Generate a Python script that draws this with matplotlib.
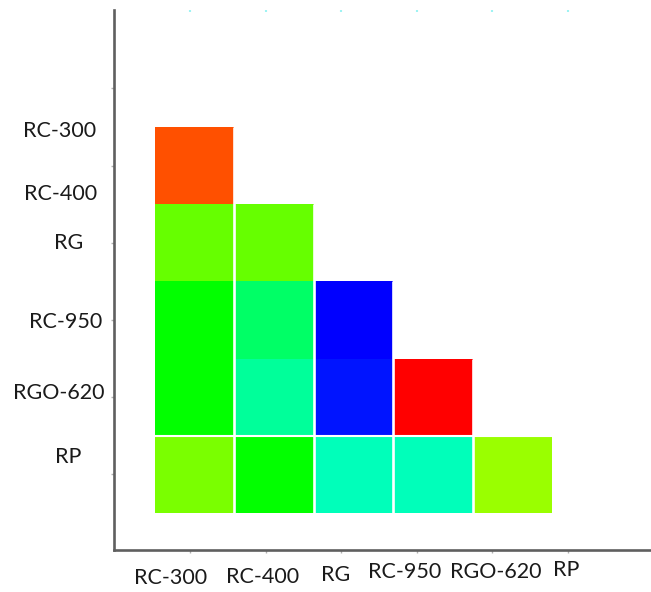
import numpy as np
import matplotlib
matplotlib.use("Agg")
import matplotlib.pyplot as plt
import colorsys
from matplotlib.colors import ListedColormap

# Sample names shared by both axes
row_labels = ["RC-300", "RC-400", "RG", "RC-950", "RGO-620", "RP"]
col_labels = ["RC-300", "RC-400", "RG", "RC-950", "RGO-620", "RP"]

# Lower-triangle similarity scores (row i vs column j, j < i)
row_rc400 = [0.92]
row_rg = [0.60, 0.60]
row_rc950 = [0.50, 0.40, 0.00]
row_rgo620 = [0.50, 0.35, 0.02, 1.00]
row_rp = [0.62, 0.50, 0.32, 0.32, 0.65]
rows = [[], row_rc400, row_rg, row_rc950, row_rgo620, row_rp]

n = len(row_labels)
grid = np.full((n, n), np.nan)
for i, vals in enumerate(rows):
    grid[i, :len(vals)] = vals
masked = np.ma.masked_invalid(grid)

# Rainbow scale: blue (0) -> green -> yellow -> red (1)
hues = np.linspace(240, 0, 256) / 360.0
cmap = ListedColormap([colorsys.hsv_to_rgb(h, 1, 1) for h in hues])

fig = plt.figure(figsize=(6.51, 5.92), dpi=100)
ax = fig.add_axes([114 / 651, 1 - 550 / 592, 537 / 651, 540 / 592])

edges = np.arange(n + 1)
ax.pcolormesh(edges, edges, masked, cmap=cmap, vmin=0, vmax=1,
              shading="flat", antialiased=False, edgecolors="none")

# White separators between columns and above the last row
for k in range(1, n - 1):
    ax.plot([k, k], [k, n], color="white", lw=1.9, solid_capstyle="butt")
ax.plot([0, n - 1], [n - 1, n - 1], color="white", lw=1.5, solid_capstyle="butt")

ax.set_xlim(-0.516, 6.247)
ax.set_ylim(6.479, -0.516)

for side in ("top", "right"):
    ax.spines[side].set_visible(False)
for side in ("left", "bottom"):
    ax.spines[side].set_color("#5f5f5f")
    ax.spines[side].set_linewidth(1.9)

xtick_pos = np.linspace(0.44, 5.20, n)
ax.set_xticks(xtick_pos)
ax.set_yticks(np.arange(n) + 0.5)
ax.set_xticklabels([])
ax.set_yticklabels([])
ax.tick_params(axis="both", length=2.2, width=1.0, color="#b0b0b0")

top = ax.secondary_xaxis("top")
top.set_xticks(xtick_pos)
top.set_xticklabels([])
top.tick_params(length=1.5, width=1.5, color="#9ff3f3", direction="in")
top.spines["top"].set_visible(False)

# Category labels along both axes
label_font = dict(family=["Lato", "DejaVu Sans"], fontsize=15.5, color="#1a1a1a")
xlab_x = [0.20, 1.36, 2.27, 3.14, 4.29, 5.18]
xlab_y = [6.84, 6.83, 6.80, 6.76, 6.76, 6.74]
for name, x, y in zip(col_labels, xlab_x, xlab_y):
    ax.text(x, y, name, ha="center", va="center", clip_on=False, **label_font)

ylab_x = [-1.196, -1.184, -1.083, -1.121, -1.209, -1.096]
ylab_y = [1.052, 1.868, 2.503, 3.526, 4.446, 5.275]
for name, x, y in zip(row_labels, ylab_x, ylab_y):
    ax.text(x, y, name, ha="center", va="center", clip_on=False, **label_font)

fig.savefig("out.png", dpi=100)
